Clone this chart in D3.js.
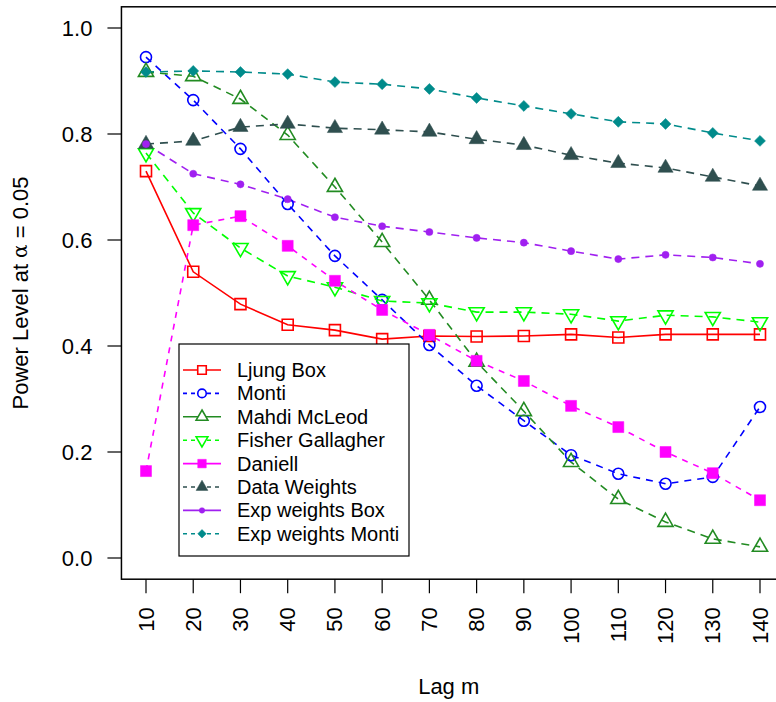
<!DOCTYPE html>
<html>
<head>
<meta charset="utf-8">
<script src="https://cdn.jsdelivr.net/npm/d3@7"></script>
<style>
  body { margin: 0; background: #fff; }
  svg { display: block; font-family: "Liberation Sans", Arial, sans-serif; }
</style>
</head>
<body>
<div class="chart"></div>
<script>
const lags = [10, 20, 30, 40, 50, 60, 70, 80, 90, 100, 110, 120, 130, 140];
const yTicks = [0.0, 0.2, 0.4, 0.6, 0.8, 1.0];

const ljungBox        = [0.730, 0.540, 0.479, 0.440, 0.430, 0.413, 0.419, 0.418, 0.419, 0.422, 0.416, 0.422, 0.422, 0.422];
const monti           = [0.945, 0.864, 0.772, 0.668, 0.570, 0.487, 0.402, 0.325, 0.259, 0.194, 0.159, 0.140, 0.153, 0.285];
const mahdiMcLeod     = [0.917, 0.909, 0.866, 0.798, 0.700, 0.596, 0.487, 0.370, 0.277, 0.181, 0.111, 0.068, 0.036, 0.021];
const fisherGallagher = [0.764, 0.651, 0.585, 0.532, 0.511, 0.485, 0.481, 0.464, 0.464, 0.460, 0.447, 0.458, 0.455, 0.445];
const daniell         = [0.164, 0.628, 0.645, 0.589, 0.523, 0.468, 0.421, 0.372, 0.334, 0.287, 0.247, 0.200, 0.160, 0.109];
const dataWeights     = [0.781, 0.787, 0.813, 0.819, 0.811, 0.808, 0.804, 0.790, 0.779, 0.760, 0.745, 0.736, 0.719, 0.702];
const expWeightsBox   = [0.781, 0.725, 0.705, 0.677, 0.643, 0.626, 0.615, 0.604, 0.595, 0.579, 0.564, 0.572, 0.567, 0.555];
const expWeightsMonti = [0.917, 0.919, 0.917, 0.913, 0.898, 0.894, 0.885, 0.868, 0.853, 0.838, 0.823, 0.819, 0.802, 0.787];

// line / marker styling per series (legend alternates solid and dashed)
const series = [
  {name: "Ljung Box",         values: ljungBox,        color: "#ff0000", dash: null,  legDash: null,  sym: "square",   fill: false, size: 121},
  {name: "Monti",             values: monti,           color: "#0000ff", dash: "7,6", legDash: "4,4", sym: "circle",   fill: false, size: 95},
  {name: "Mahdi McLeod",      values: mahdiMcLeod,     color: "#228b22", dash: "8,6", legDash: null,  sym: "triUp",    fill: false, size: 100},
  {name: "Fisher Gallagher",  values: fisherGallagher, color: "#00ff00", dash: "8,6", legDash: "4,4", sym: "triDown",  fill: false, size: 100},
  {name: "Daniell",           values: daniell,         color: "#ff00ff", dash: "6,6", legDash: null,  sym: "square",   fill: true,  size: 121},
  {name: "Data Weights",      values: dataWeights,     color: "#2f4f4f", dash: "8,6", legDash: "4,4", sym: "triUp",    fill: true,  size: 100},
  {name: "Exp weights Box",   values: expWeightsBox,   color: "#a020f0", dash: "8,6", legDash: null,  sym: "circle",   fill: true,  size: 40},
  {name: "Exp weights Monti", values: expWeightsMonti, color: "#008b8b", dash: "8,6", legDash: "4,4", sym: "diamond",  fill: true,  size: 60}
];

const W = 776, H = 702;
const x = d3.scaleLinear().domain([10, 140]).range([146, 760]);
const y = d3.scaleLinear().domain([0, 1]).range([558, 28]);

const svg = d3.select(".chart").append("svg")
  .attr("width", W).attr("height", H);

function symbolPath(sym, size) {
  if (sym === "square") return d3.symbol(d3.symbolSquare, size)();
  if (sym === "circle") return d3.symbol(d3.symbolCircle, size)();
  if (sym === "triUp" || sym === "triDown") return d3.symbol(d3.symbolTriangle, size)();
  if (sym === "diamond") return d3.symbol(d3.symbolSquare, size)();
}
function symbolRotate(sym) {
  if (sym === "triDown") return 180;
  if (sym === "diamond") return 45;
  return 0;
}

// plot box
const x0 = x(4.8), x1 = x(145.2), yTop = y(1.04), yBot = y(-0.04);
svg.append("rect")
  .attr("x", x0).attr("y", yTop)
  .attr("width", x1 - x0).attr("height", yBot - yTop)
  .attr("fill", "none").attr("stroke", "#000").attr("stroke-width", 1.5);

// y axis
const yAxis = svg.append("g");
yAxis.selectAll("line").data(yTicks).join("line")
  .attr("x1", x0 - 14).attr("x2", x0)
  .attr("y1", d => y(d)).attr("y2", d => y(d))
  .attr("stroke", "#000").attr("stroke-width", 1.2);
yAxis.selectAll("text").data(yTicks).join("text")
  .attr("x", x0 - 29).attr("y", d => y(d))
  .attr("text-anchor", "end").attr("dominant-baseline", "central")
  .attr("font-size", 22).attr("fill", "#000")
  .text(d => d3.format(".1f")(d));

// x axis
const xAxis = svg.append("g");
xAxis.selectAll("line").data(lags).join("line")
  .attr("x1", d => x(d)).attr("x2", d => x(d))
  .attr("y1", yBot).attr("y2", yBot + 14)
  .attr("stroke", "#000").attr("stroke-width", 1.2);
xAxis.selectAll("text").data(lags).join("text")
  .attr("transform", d => `translate(${x(d)},${yBot + 28}) rotate(-90)`)
  .attr("text-anchor", "end").attr("dominant-baseline", "central")
  .attr("font-size", 22).attr("fill", "#000")
  .text(d => d);

// axis titles
svg.append("text")
  .attr("x", (x0 + W) / 2).attr("y", 686)
  .attr("text-anchor", "middle").attr("dominant-baseline", "central")
  .attr("font-size", 22).attr("fill", "#000")
  .text("Lag m");

const yt = svg.append("text")
  .attr("transform", `translate(20,${(yTop + yBot) / 2}) rotate(-90)`)
  .attr("text-anchor", "middle").attr("dominant-baseline", "central")
  .attr("font-size", 22).attr("fill", "#000");
yt.append("tspan").text("Power Level at ");
yt.append("tspan").attr("font-family", "DejaVu Serif, serif").attr("font-size", 20).text("α");
yt.append("tspan").text(" = 0.05");

// lines
const line = d3.line().x((d, i) => x(lags[i])).y(d => y(d));
svg.append("g").selectAll("path").data(series).join("path")
  .attr("d", s => line(s.values))
  .attr("fill", "none")
  .attr("stroke", s => s.color)
  .attr("stroke-width", 1.6)
  .attr("stroke-dasharray", s => s.dash);

// markers
series.forEach(s => {
  svg.append("g").selectAll("path").data(s.values).join("path")
    .attr("d", symbolPath(s.sym, s.size))
    .attr("transform", (d, i) => `translate(${x(lags[i])},${y(d)}) rotate(${symbolRotate(s.sym)})`)
    .attr("fill", s.fill ? s.color : "none")
    .attr("stroke", s.color)
    .attr("stroke-width", s.fill ? 0.5 : 1.6);
});

// legend
const legX = 179, legY = 344, legW = 230, legH = 212, rowH = 23.4;
const leg = svg.append("g");
leg.append("rect")
  .attr("x", legX).attr("y", legY).attr("width", legW).attr("height", legH)
  .attr("fill", "#fff").attr("stroke", "#000").attr("stroke-width", 1.2);
const rows = leg.selectAll("g.row").data(series).join("g")
  .attr("class", "row")
  .attr("transform", (s, i) => `translate(${legX},${legY + 26 + i * rowH})`);
rows.append("line")
  .attr("x1", 4).attr("x2", 42).attr("y1", 0).attr("y2", 0)
  .attr("stroke", s => s.color).attr("stroke-width", 1.6)
  .attr("stroke-dasharray", s => s.legDash);
rows.append("path")
  .attr("d", s => symbolPath(s.sym, s.size * 0.6))
  .attr("transform", s => `translate(23,0) rotate(${symbolRotate(s.sym)})`)
  .attr("fill", s => s.fill ? s.color : "#fff")
  .attr("stroke", s => s.color)
  .attr("stroke-width", s => s.fill ? 0.5 : 1.6);
rows.append("text")
  .attr("x", 58).attr("y", 0)
  .attr("dominant-baseline", "central")
  .attr("font-size", 20).attr("fill", "#000")
  .text(s => s.name);
</script>
</body>
</html>
